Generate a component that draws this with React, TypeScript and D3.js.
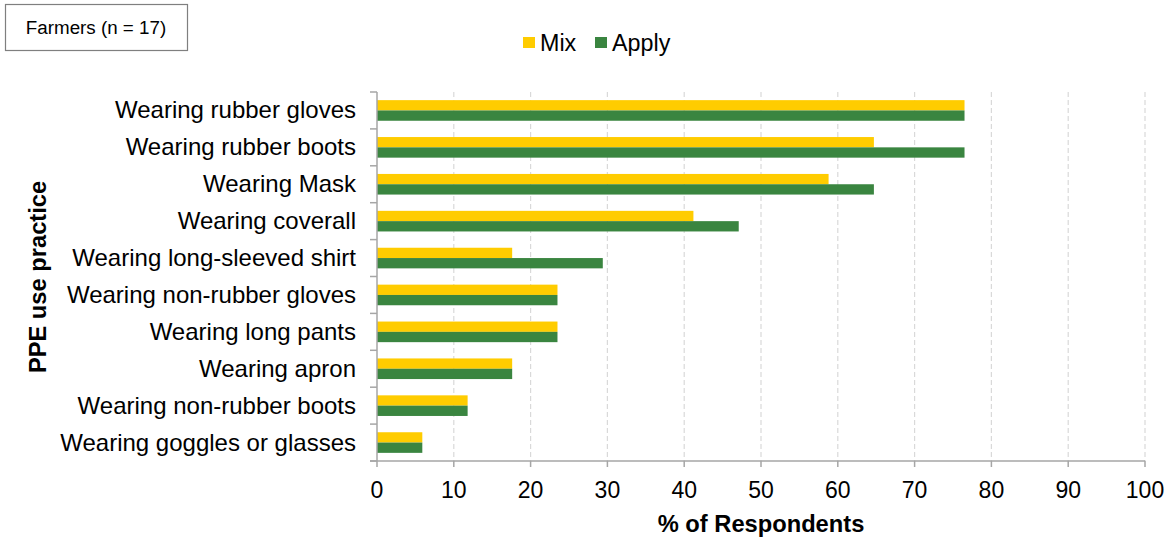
import React from "react";
import * as d3 from "d3";

const categories = [
  "Wearing rubber gloves",
  "Wearing rubber boots",
  "Wearing Mask",
  "Wearing coverall",
  "Wearing long-sleeved shirt",
  "Wearing non-rubber gloves",
  "Wearing long pants",
  "Wearing apron",
  "Wearing non-rubber boots",
  "Wearing goggles or glasses",
];
const mixValues = [76.5, 64.7, 58.8, 41.2, 17.6, 23.5, 23.5, 17.6, 11.8, 5.9];
const applyValues = [76.5, 76.5, 64.7, 47.1, 29.4, 23.5, 23.5, 17.6, 11.8, 5.9];
const seriesNames = ["Mix", "Apply"];
const xTicks = [0, 10, 20, 30, 40, 50, 60, 70, 80, 90, 100];

const W = 1171, H = 540;
const left = 377, right = 1145, top = 92, bottom = 461;
const colors = ["#FFCC00", "#3A8540"];
const font = "Arial, 'Liberation Sans', sans-serif";

export default function App() {
  const x = d3.scaleLinear().domain([0, 100]).range([left, right]);
  const y = d3.scaleBand<string>().domain(categories).range([top, bottom]);
  const bandInner = d3.scaleBand<string>().domain(seriesNames).range([0, y.bandwidth()]).paddingOuter(0.79).paddingInner(0);
  const series = [mixValues, applyValues];
  const boundaries = categories.map((c) => y(c)!).concat([bottom]);

  return (
    <svg width={W} height={H} style={{ position: "absolute", left: 0, top: 0 }} fontFamily={font}>
      <rect x={0} y={0} width={W} height={H} fill="#fff" />
      {/* title box */}
      <rect x={5.5} y={4.5} width={182} height={46} fill="#fff" stroke="#7f7f7f" strokeWidth={1.2} />
      <text x={96} y={33.5} textAnchor="middle" fontSize={18.8} fill="#000">Farmers (n = 17)</text>

      {/* legend */}
      <rect x={523} y={37} width={12} height={11} fill={colors[0]} />
      <text x={540} y={51} fontSize={23.3} fill="#000">Mix</text>
      <rect x={595} y={37} width={12} height={11} fill={colors[1]} />
      <text x={612} y={51} fontSize={23.3} fill="#000">Apply</text>

      {/* gridlines */}
      {xTicks.filter((t) => t > 0).map((t) => (
        <line key={t} x1={x(t)} x2={x(t)} y1={top} y2={bottom} stroke="#d9d9d9" strokeWidth={1.2} strokeDasharray="5,3" />
      ))}

      {/* bars */}
      {categories.map((c, i) => (
        <g key={c}>
          {series.map((vals, s) => (
            <rect
              key={s}
              x={x(0)}
              y={y(c)! + bandInner(seriesNames[s])!}
              width={x(vals[i]) - x(0)}
              height={bandInner.bandwidth()}
              fill={colors[s]}
            />
          ))}
        </g>
      ))}

      {/* y axis */}
      <line x1={left} x2={left} y1={top} y2={bottom} stroke="#a6a6a6" strokeWidth={1.5} />
      {boundaries.map((b, i) => (
        <line key={i} x1={left - 7} x2={left} y1={b} y2={b} stroke="#a6a6a6" strokeWidth={1.5} />
      ))}
      {categories.map((c) => (
        <text key={c} x={356} y={y(c)! + y.bandwidth() / 2 + 8} textAnchor="end" fontSize={24} fill="#000">{c}</text>
      ))}

      {/* x axis */}
      <line x1={left - 7} x2={right} y1={bottom} y2={bottom} stroke="#a6a6a6" strokeWidth={1.5} />
      {xTicks.map((t) => (
        <g key={t}>
          <line x1={x(t)} x2={x(t)} y1={bottom} y2={bottom + 6} stroke="#a6a6a6" strokeWidth={1.5} />
          <text x={x(t)} y={498} textAnchor="middle" fontSize={23} fill="#000">{t}</text>
        </g>
      ))}

      {/* axis titles */}
      <text x={761} y={532} textAnchor="middle" fontSize={23.7} fontWeight="bold" fill="#000">% of Respondents</text>
      <text transform={`translate(46,277) rotate(-90)`} textAnchor="middle" fontSize={23.7} fontWeight="bold" fill="#000">PPE use practice</text>
    </svg>
  );
}
